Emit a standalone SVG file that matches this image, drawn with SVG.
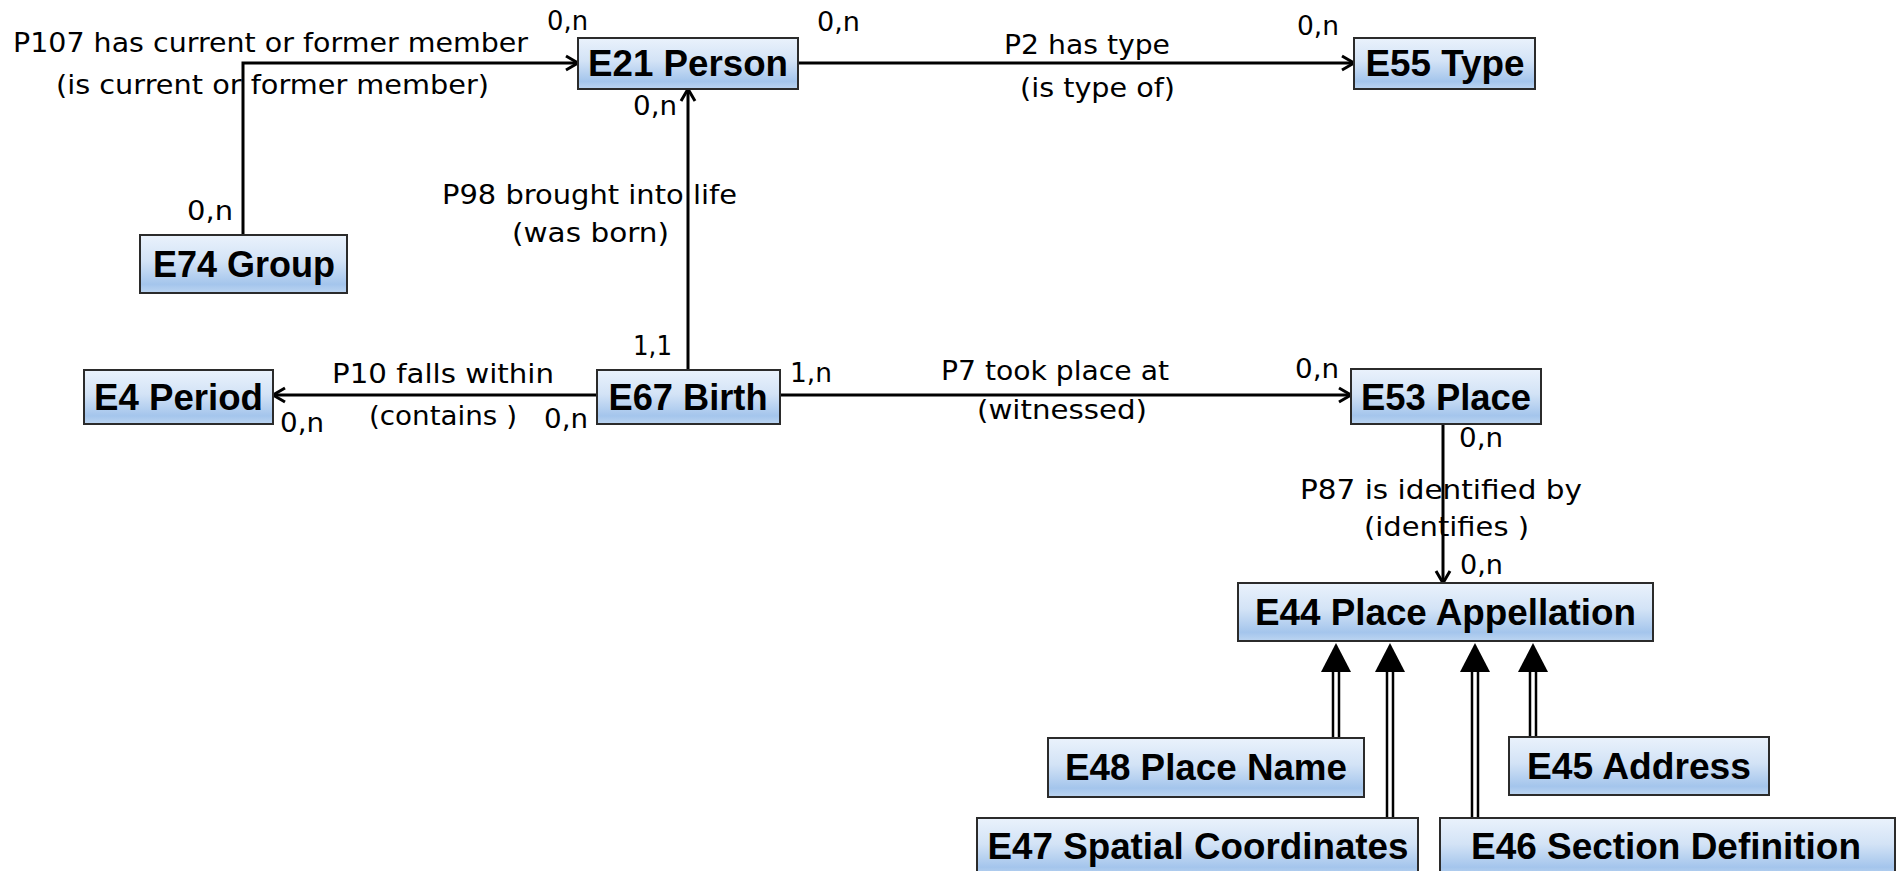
<svg xmlns="http://www.w3.org/2000/svg" width="1898" height="871" viewBox="0 0 1898 871">
  <style>
    .box { fill: url(#boxFill); stroke: #2b2b2b; stroke-width: 2; }
    .name { font-family: "Liberation Sans", Arial, sans-serif; font-weight: bold; font-size: 36px; fill: #000; text-anchor: middle; }
    .lbl { font-family: "DejaVu Sans", Verdana, sans-serif; font-size: 27px; fill: #000; }
    .link { fill: none; stroke: #000; stroke-width: 3; }
    .isa { fill: none; stroke: #000; stroke-width: 2.5; }
  </style>
  <defs>
    <linearGradient id="boxFill" x1="0" y1="0" x2="0" y2="1">
      <stop offset="0" stop-color="#eaf2fc"/>
      <stop offset="0.45" stop-color="#d3e3f6"/>
      <stop offset="0.85" stop-color="#a4c5ec"/>
      <stop offset="1" stop-color="#bcd5f1"/>
    </linearGradient>
    <marker id="arrow" viewBox="-14 -10 16 20" refX="0" refY="0" markerWidth="16" markerHeight="20" markerUnits="userSpaceOnUse" orient="auto" overflow="visible">
      <path d="M-12,-7 L0,0 L-12,7" fill="none" stroke="#000" stroke-width="3"/>
    </marker>
    <path id="isaHead" d="M0,0 L15,29 L-15,29 Z" fill="#000"/>
  </defs>

  <!-- property labels and cardinalities -->
  <g id="labels" class="lbl">
    <text x="13" y="52" textLength="515" lengthAdjust="spacingAndGlyphs">P107 has current or former member</text>
    <text x="56" y="94" textLength="433" lengthAdjust="spacingAndGlyphs">(is current or former member)</text>
    <text x="547" y="30" textLength="41" lengthAdjust="spacingAndGlyphs">0,n</text>
    <text x="817" y="31" textLength="43" lengthAdjust="spacingAndGlyphs">0,n</text>
    <text x="1004" y="54" textLength="166" lengthAdjust="spacingAndGlyphs">P2 has type</text>
    <text x="1020" y="97" textLength="155" lengthAdjust="spacingAndGlyphs">(is type of)</text>
    <text x="1297" y="35" textLength="42" lengthAdjust="spacingAndGlyphs">0,n</text>
    <text x="633" y="115" textLength="44" lengthAdjust="spacingAndGlyphs">0,n</text>
    <text x="442" y="204" textLength="295" lengthAdjust="spacingAndGlyphs">P98 brought into life</text>
    <text x="512" y="242" textLength="157" lengthAdjust="spacingAndGlyphs">(was born)</text>
    <text x="187" y="220" textLength="46" lengthAdjust="spacingAndGlyphs">0,n</text>
    <text x="633" y="355" textLength="39" lengthAdjust="spacingAndGlyphs">1,1</text>
    <text x="332" y="383" textLength="222" lengthAdjust="spacingAndGlyphs">P10 falls within</text>
    <text x="369" y="425" textLength="148" lengthAdjust="spacingAndGlyphs">(contains )</text>
    <text x="280" y="432" textLength="44" lengthAdjust="spacingAndGlyphs">0,n</text>
    <text x="544" y="428" textLength="44" lengthAdjust="spacingAndGlyphs">0,n</text>
    <text x="790" y="382" textLength="42" lengthAdjust="spacingAndGlyphs">1,n</text>
    <text x="941" y="380" textLength="228" lengthAdjust="spacingAndGlyphs">P7 took place at</text>
    <text x="977" y="419" textLength="170" lengthAdjust="spacingAndGlyphs">(witnessed)</text>
    <text x="1295" y="378" textLength="44" lengthAdjust="spacingAndGlyphs">0,n</text>
    <text x="1459" y="447" textLength="44" lengthAdjust="spacingAndGlyphs">0,n</text>
    <text x="1300" y="499" textLength="282" lengthAdjust="spacingAndGlyphs">P87 is identified by</text>
    <text x="1364" y="536" textLength="165" lengthAdjust="spacingAndGlyphs">(identifies )</text>
    <text x="1460" y="574" textLength="43" lengthAdjust="spacingAndGlyphs">0,n</text>
  </g>

  <!-- connectors -->
  <g id="connectors">
    <path class="link" d="M243,235 V63 H578" marker-end="url(#arrow)"/>
    <path class="link" d="M798,63 H1354" marker-end="url(#arrow)"/>
    <path class="link" d="M688,370 V89" marker-end="url(#arrow)"/>
    <path class="link" d="M597,395 H273" marker-end="url(#arrow)"/>
    <path class="link" d="M780,395 H1351" marker-end="url(#arrow)"/>
    <path class="link" d="M1443,424 V583" marker-end="url(#arrow)"/>
    <!-- subclass links into E44 -->
    <path class="isa" d="M1333,672 V738 M1339,672 V738"/>
    <use href="#isaHead" x="1336" y="643"/>
    <path class="isa" d="M1387,672 V818 M1393,672 V818"/>
    <use href="#isaHead" x="1390" y="643"/>
    <path class="isa" d="M1472,672 V818 M1478,672 V818"/>
    <use href="#isaHead" x="1475" y="643"/>
    <path class="isa" d="M1530,672 V737 M1536,672 V737"/>
    <use href="#isaHead" x="1533" y="643"/>
  </g>

  <!-- entity nodes -->
  <g id="E21">
    <rect class="box" x="578" y="38" width="220" height="51"/>
    <text class="name" x="688" y="76" textLength="200" lengthAdjust="spacingAndGlyphs">E21 Person</text>
  </g>
  <g id="E55">
    <rect class="box" x="1354" y="38" width="181" height="51"/>
    <text class="name" x="1445" y="76" textLength="159" lengthAdjust="spacingAndGlyphs">E55 Type</text>
  </g>
  <g id="E74">
    <rect class="box" x="140" y="235" width="207" height="58"/>
    <text class="name" x="244" y="277" textLength="182" lengthAdjust="spacingAndGlyphs">E74 Group</text>
  </g>
  <g id="E4">
    <rect class="box" x="84" y="370" width="189" height="54"/>
    <text class="name" x="178.5" y="410" textLength="169" lengthAdjust="spacingAndGlyphs">E4 Period</text>
  </g>
  <g id="E67">
    <rect class="box" x="597" y="370" width="183" height="54"/>
    <text class="name" x="688" y="410" textLength="159" lengthAdjust="spacingAndGlyphs">E67 Birth</text>
  </g>
  <g id="E53">
    <rect class="box" x="1351" y="369" width="190" height="55"/>
    <text class="name" x="1446" y="410" textLength="170" lengthAdjust="spacingAndGlyphs">E53 Place</text>
  </g>
  <g id="E44">
    <rect class="box" x="1238" y="583" width="415" height="58"/>
    <text class="name" x="1445.5" y="625" textLength="381" lengthAdjust="spacingAndGlyphs">E44 Place Appellation</text>
  </g>
  <g id="E48">
    <rect class="box" x="1048" y="738" width="316" height="59"/>
    <text class="name" x="1206" y="780" textLength="282" lengthAdjust="spacingAndGlyphs">E48 Place Name</text>
  </g>
  <g id="E45">
    <rect class="box" x="1509" y="737" width="260" height="58"/>
    <text class="name" x="1639" y="779" textLength="224" lengthAdjust="spacingAndGlyphs">E45 Address</text>
  </g>
  <g id="E47">
    <rect class="box" x="977" y="818" width="441" height="58"/>
    <text class="name" x="1198" y="859" textLength="421" lengthAdjust="spacingAndGlyphs">E47 Spatial Coordinates</text>
  </g>
  <g id="E46">
    <rect class="box" x="1440" y="818" width="455" height="58"/>
    <text class="name" x="1666" y="859" textLength="390" lengthAdjust="spacingAndGlyphs">E46 Section Definition</text>
  </g>
</svg>
